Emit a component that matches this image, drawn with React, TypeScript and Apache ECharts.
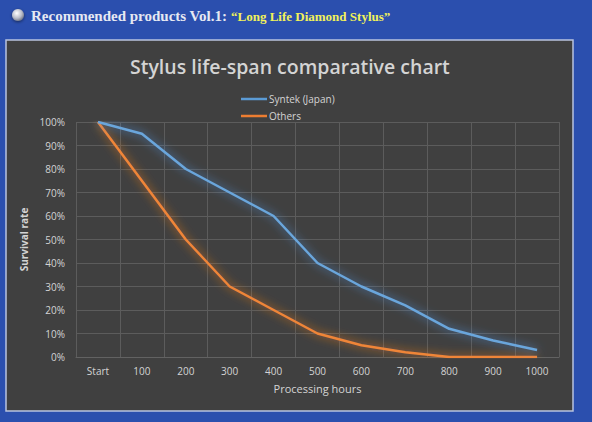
import React, { useEffect, useRef } from "react";
import * as echarts from "echarts";

const categories = ["Start", "100", "200", "300", "400", "500", "600", "700", "800", "900", "1000"];
const syntek = [100, 95, 80, 70, 60, 40, 30, 22, 12, 7, 3];
const others = [100, 75, 50, 30, 20, 10, 5, 2, 0, 0, 0];
const seriesNames = ["Syntek (Japan)", "Others"];
const titleText = "Stylus life-span comparative chart";
const headerWhite = "Recommended products Vol.1: ";
const headerYellow = "\u201CLong Life Diamond Stylus\u201D";

const FONT = "'Open Sans', 'Noto Sans', sans-serif";
const TXT = "#d4d4d4";

export default function App() {
  const ref = useRef<HTMLDivElement>(null);
  useEffect(() => {
    if (!ref.current) return;
    const chart = echarts.init(ref.current, null, { renderer: "svg" });
    chart.setOption({
      animation: false,
      backgroundColor: "#2b4fae",
      textStyle: { fontFamily: FONT },
      title: {
        text: titleText,
        left: 125,
        top: 51,
        textStyle: { color: TXT, fontSize: 19.5, fontWeight: 600, fontFamily: FONT },
      },
      legend: {
        orient: "vertical",
        left: 236,
        top: 89,
        icon: "rect",
        itemWidth: 26,
        itemHeight: 2.5,
        itemGap: 7,
        data: seriesNames,
        textStyle: { color: TXT, fontSize: 10, fontFamily: FONT, padding: [0, 0, 0, -3] },
      },
      graphic: [
        {
          type: "rect",
          z: -100,
          shape: { x: 6, y: 40, width: 567, height: 371 },
          style: { fill: "#404040", stroke: "#b9c3df", lineWidth: 1.5 },
        },
        {
          type: "circle",
          shape: { cx: 18, cy: 15, r: 6 },
          style: {
            fill: new echarts.graphic.RadialGradient(0.4, 0.35, 0.7, [
              { offset: 0, color: "#ffffff" },
              { offset: 0.6, color: "#b8bcc8" },
              { offset: 1, color: "#6a7080" },
            ]),
            shadowBlur: 3,
            shadowColor: "rgba(0,0,0,0.5)",
            shadowOffsetY: 1,
          },
        },
        {
          type: "text",
          x: 31,
          y: 16,
          style: {
            text: "{a|" + headerWhite + "}{b|" + headerYellow + "}",
            verticalAlign: "middle",
            rich: {
              a: {
                fill: "#e6e8f2",
                fontSize: 15,
                fontWeight: "bold",
                fontFamily: "'Liberation Serif', 'DejaVu Serif', serif",
              },
              b: {
                fill: "#f2f25a",
                fontSize: 13,
                fontWeight: "bold",
                fontFamily: "'Liberation Serif', 'DejaVu Serif', serif",
              },
            },
          },
        },
      ],
      grid: { left: 76, right: 33, top: 122, bottom: 65, containLabel: false },
      xAxis: {
        type: "category",
        data: categories,
        boundaryGap: true,
        name: "Processing hours",
        nameLocation: "middle",
        nameGap: 26,
        nameTextStyle: { color: TXT, fontSize: 11, fontFamily: FONT },
        axisLine: { show: true, lineStyle: { color: "#626262", width: 1 } },
        axisTick: { show: false },
        axisLabel: { color: TXT, fontSize: 10, margin: 9, interval: 0 },
        splitLine: { show: true, lineStyle: { color: "#5c5c5c", width: 1 } },
      },
      yAxis: {
        type: "value",
        min: 0,
        max: 100,
        interval: 10,
        name: "Survival rate",
        nameLocation: "middle",
        nameRotate: 90,
        nameGap: 41,
        nameTextStyle: { color: TXT, fontSize: 10, fontWeight: "bold", fontFamily: FONT },
        axisLine: { show: false },
        axisTick: { show: false },
        axisLabel: { color: TXT, fontSize: 10, margin: 11, formatter: "{value}%" },
        splitLine: { show: true, lineStyle: { color: "#5c5c5c", width: 1 } },
      },
      series: [
        {
          name: seriesNames[0],
          type: "line",
          data: syntek,
          symbol: "none",
          color: "#5b9bd5",
          lineStyle: {
            color: "#6aa6dc",
            width: 2.5,
            shadowBlur: 10,
            shadowColor: "rgba(80,150,230,0.9)",
          },
          z: 3,
        },
        {
          name: seriesNames[1],
          type: "line",
          data: others,
          symbol: "none",
          color: "#ed7d31",
          lineStyle: {
            color: "#ef8538",
            width: 2.5,
            shadowBlur: 10,
            shadowColor: "rgba(255,130,30,0.9)",
          },
          z: 2,
        },
      ],
    });
    return () => chart.dispose();
  }, []);
  return (
    <div
      ref={ref}
      style={{ position: "fixed", left: 0, top: 0, width: 592, height: 422 }}
    />
  );
}
